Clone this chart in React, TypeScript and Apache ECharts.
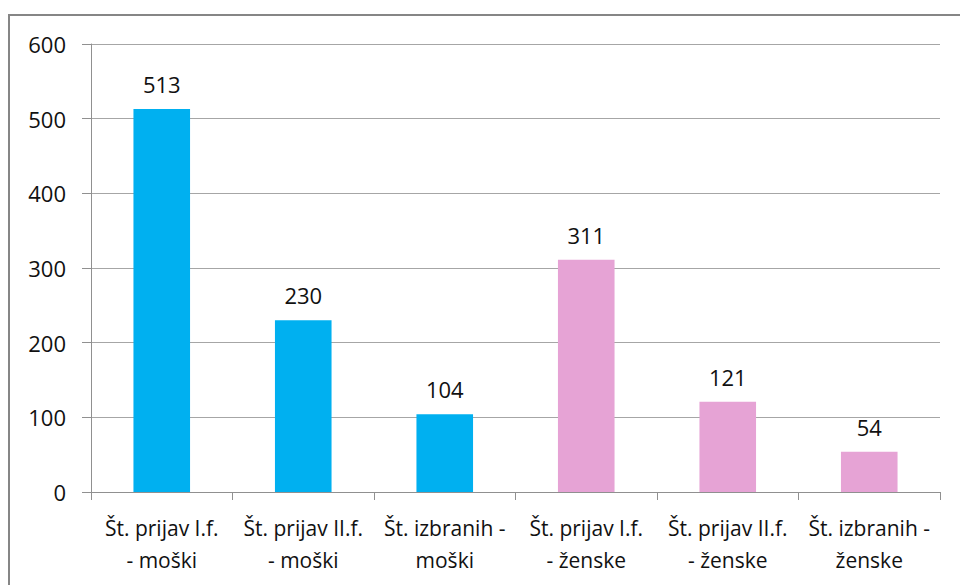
import React, { useEffect, useRef } from "react";
import * as echarts from "echarts";

const categories = [
  "Št. prijav I.f.\n- moški",
  "Št. prijav II.f.\n- moški",
  "Št. izbranih -\nmoški",
  "Št. prijav I.f.\n- ženske",
  "Št. prijav II.f.\n- ženske",
  "Št. izbranih -\nženske",
];
const values = [513, 230, 104, 311, 121, 54];
const barColors = ["#00B0F0", "#00B0F0", "#00B0F0", "#E6A3D5", "#E6A3D5", "#E6A3D5"];
const yTicks = { min: 0, max: 600, interval: 100 };

const FONT = "Open Sans";

export default function App() {
  const ref = useRef<HTMLDivElement>(null);
  useEffect(() => {
    const chart = echarts.init(ref.current!, null, { renderer: "svg" });
    chart.setOption({
      animation: false,
      backgroundColor: "#ffffff",
      grid: { left: 91, right: 20, top: 44, bottom: 93, containLabel: false },
      graphic: [
        {
          type: "rect",
          shape: { x: 9, y: 15, width: 1000, height: 1000 },
          style: { fill: "none", stroke: "#868686", lineWidth: 2 },
          silent: true,
        },
      ],
      xAxis: {
        type: "category",
        data: categories,
        boundaryGap: true,
        axisLine: { show: true, lineStyle: { color: "#909090", width: 1 } },
        axisTick: { show: true, length: 8, lineStyle: { color: "#909090" } },
        axisLabel: {
          interval: 0,
          margin: 20,
          color: "#111111",
          fontFamily: FONT,
          fontSize: 21,
          lineHeight: 32,
        },
      },
      yAxis: {
        type: "value",
        min: yTicks.min,
        max: yTicks.max,
        interval: yTicks.interval,
        axisLine: { show: true, lineStyle: { color: "#909090", width: 1 } },
        axisTick: { show: true, length: 9, lineStyle: { color: "#909090" } },
        splitLine: { show: true, lineStyle: { color: "#A6A6A6", width: 1 } },
        axisLabel: {
          margin: 25,
          color: "#111111",
          fontFamily: FONT,
          fontSize: 22,
        },
      },
      series: [
        {
          type: "bar",
          data: values.map((v, i) => ({ value: v, itemStyle: { color: barColors[i] } })),
          barWidth: "40%",
          label: {
            show: true,
            position: "top",
            distance: 14,
            color: "#111111",
            fontFamily: FONT,
            fontSize: 22,
          },
        },
      ],
    });
    return () => chart.dispose();
  }, []);
  return (
    <div
      ref={ref}
      style={{ position: "fixed", left: 0, top: 0, width: 960, height: 585 }}
    />
  );
}
